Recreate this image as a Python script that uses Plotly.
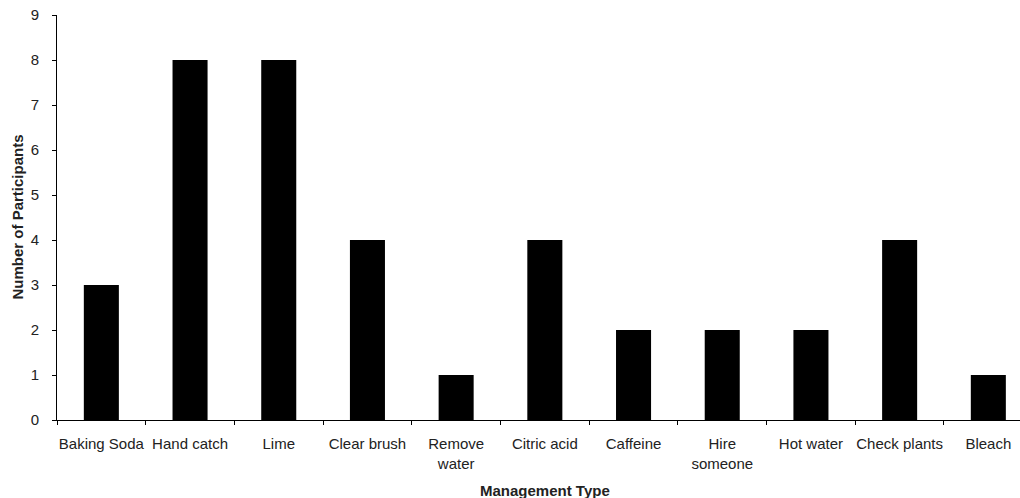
import plotly.graph_objects as go

categories = ["Baking Soda", "Hand catch", "Lime", "Clear brush", "Remove<br>water",
              "Citric acid", "Caffeine", "Hire<br>someone", "Hot water", "Check plants", "Bleach"]
participants = [3, 8, 8, 4, 1, 4, 2, 2, 2, 4, 1]
y_ticks = list(range(0, 10))
x_title = "Management Type"
y_title = "Number of Participants"

font_family = "Liberation Sans, Arial, sans-serif"
text_color = "#222222"

fig = go.Figure(go.Bar(
    x=categories, y=participants,
    marker=dict(color="black", line=dict(width=0)),
    width=0.395,
))

fig.update_layout(
    width=1020, height=498,
    margin=dict(l=57, r=0, t=15, b=78, autoexpand=False),
    paper_bgcolor="white", plot_bgcolor="white",
    showlegend=False,
    font=dict(family=font_family, size=15, color=text_color),
    xaxis=dict(
        type="category",
        range=[-0.5, 10.357],
        tickson="boundaries",
        ticks="outside", ticklen=4, tickcolor="black", tickwidth=1,
        showline=True, linecolor="black", linewidth=1,
        showgrid=False, zeroline=False,
        tickangle=0, automargin=False,
        ticklabelstandoff=10, ticklabeloverflow="allow",
        tickfont=dict(size=15, color=text_color),
    ),
    yaxis=dict(
        range=[0, 9],
        tickvals=y_ticks,
        ticks="outside", ticklen=4, tickcolor="black", tickwidth=1,
        showline=True, linecolor="black", linewidth=1,
        showgrid=False, zeroline=False, automargin=False,
        tickfont=dict(size=15, color=text_color),
        ticklabelstandoff=10, ticklabeloverflow="allow",
    ),
    annotations=[
        dict(text="<b>" + x_title + "</b>", xref="paper", yref="paper",
             x=0.507, y=0, yshift=-70, xanchor="center", yanchor="middle",
             showarrow=False, font=dict(size=15, color=text_color)),
        dict(text="<b>" + y_title + "</b>", xref="paper", yref="paper",
             x=0, y=0.5, xshift=-40, xanchor="center", yanchor="middle",
             textangle=-90, showarrow=False, font=dict(size=15, color=text_color)),
    ],
)

# remove the browser's default 8px body margin so the figure fills the window exactly
fig.write_html("out.html", config={"displayModeBar": False},
               post_script="document.body.style.margin='0';")
